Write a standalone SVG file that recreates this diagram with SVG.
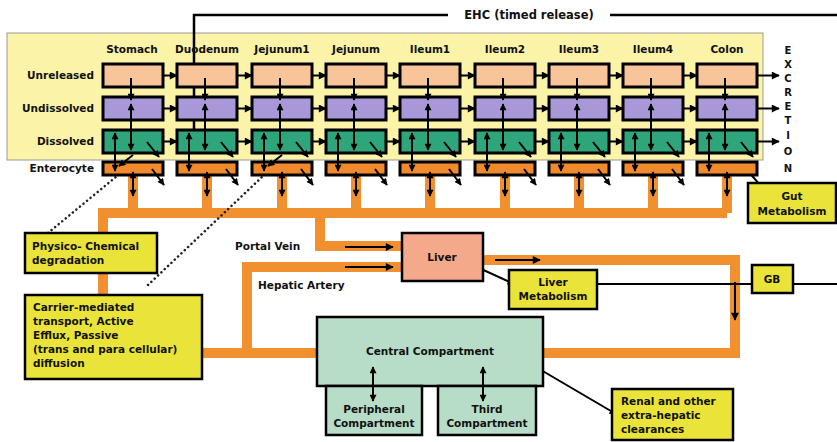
<svg xmlns="http://www.w3.org/2000/svg" width="837" height="442" viewBox="0 0 837 442">
<defs>
<marker id="ah" viewBox="0 0 10 10" refX="9" refY="5" markerWidth="10" markerHeight="8" markerUnits="userSpaceOnUse" orient="auto-start-reverse"><path d="M0,0 L10,5 L0,10 z" fill="#000"/></marker>
<marker id="ahs" viewBox="0 0 10 10" refX="9" refY="5" markerWidth="8" markerHeight="7" markerUnits="userSpaceOnUse" orient="auto-start-reverse"><path d="M0,0 L10,5 L0,10 z" fill="#000"/></marker>
<style>
text{font-family:"DejaVu Sans","Liberation Sans",Arial,sans-serif;font-weight:bold;fill:#111}
.lbl{font-size:10.5px}
.c{text-anchor:middle}
.r{text-anchor:end}
.bx{stroke:#000;stroke-width:3}
.un{fill:#F8C59B}.ud{fill:#A898D8}.di{fill:#2EA57B}.en{fill:#F08A2C}
.yel{fill:#EAE43A;stroke:#000;stroke-width:2.5}
.or{fill:none;stroke:#F0902F;stroke-width:10;stroke-linejoin:miter}
.ar{fill:none;stroke:#000;stroke-width:2;marker-end:url(#ah)}
.ar2{fill:none;stroke:#000;stroke-width:2;marker-end:url(#ahs);marker-start:url(#ahs)}
.ar1{fill:none;stroke:#000;stroke-width:2;marker-end:url(#ahs)}
.dot{fill:none;stroke:#222;stroke-width:2.5;stroke-dasharray:0.1 4.5;stroke-linecap:round}
</style>
</defs>
<rect id="panel" x="7" y="33" width="756" height="127" fill="#FAF3A8" stroke="#999" stroke-width="1"/>

<g id="connectors">
<path class="or" d="M103,296 V213 H727"/>
<path class="or" d="M133,175 V213 M207,175 V213 M282,175 V213 M356,175 V213 M430,175 V213 M505,175 V213 M579,175 V213 M653,175 V213 M727,175 V213"/>
<path class="or" d="M320,213 V246 H402"/>
<path class="or" d="M202,353 H318 M247,353 V267 H402"/>
<path class="or" d="M483,260 H735 V353 H543"/>
<path class="ar" d="M345,247 H393"/>
<path class="ar" d="M345,267 H393"/>
<path class="ar" d="M495,260 H540"/>
<path class="ar" d="M735,282 V320"/>
<path class="ar1" d="M479,268 L514,284"/>
<path class="ar1" d="M541,370 L616,414"/>
<path class="ar1" d="M747,170 L767,193"/>
<path fill="none" stroke="#000" stroke-width="2.5" d="M837,15 H610 M448,15 H194 V130"/>
<path class="ar1" d="M194,120 V137"/>
<path fill="none" stroke="#000" stroke-width="2" d="M597,284 H752 M793,284 H837"/>
<path class="dot" d="M48,233 L117,176"/>
<path class="dot" d="M148,285 L262,177"/>
</g>

<g id="row-labels">
<text class="lbl r" x="94" y="79">Unreleased</text>
<text class="lbl r" x="94" y="112">Undissolved</text>
<text class="lbl r" x="94" y="145">Dissolved</text>
<text class="lbl r" x="94" y="172">Enterocyte</text>
</g>

<g id="col-labels">
<text class="lbl c" x="132" y="53">Stomach</text>
<text class="lbl c" x="207" y="53">Duodenum</text>
<text class="lbl c" x="282" y="53">Jejunum1</text>
<text class="lbl c" x="356" y="53">Jejunum</text>
<text class="lbl c" x="430" y="53">Ileum1</text>
<text class="lbl c" x="505" y="53">Ileum2</text>
<text class="lbl c" x="579" y="53">Ileum3</text>
<text class="lbl c" x="653" y="53">Ileum4</text>
<text class="lbl c" x="727" y="53">Colon</text>
</g>

<g id="excretion">
<text class="c" x="788" y="54" font-size="10">E</text>
<text class="c" x="788" y="68" font-size="10">X</text>
<text class="c" x="788" y="82" font-size="10">C</text>
<text class="c" x="788" y="96" font-size="10">R</text>
<text class="c" x="788" y="110" font-size="10">E</text>
<text class="c" x="788" y="124" font-size="10">T</text>
<text class="c" x="788" y="139" font-size="10">I</text>
<text class="c" x="788" y="155" font-size="10">O</text>
<text class="c" x="788" y="172" font-size="10">N</text>
</g>

<g id="col-stomach" transform="translate(103,0)">
<rect class="bx un" x="0" y="64" width="60" height="23"/><rect class="bx ud" x="0" y="97" width="60" height="23"/><rect class="bx di" x="0" y="130" width="60" height="23"/><rect class="bx en" x="0" y="162" width="60" height="13"/>
<path class="ar1" d="M28,78 V100"/><path class="ar2" d="M28,104 V150"/><path class="ar2" d="M12,133 V171"/><path class="ar1" d="M44,142 L56,157"/><path class="ar1" d="M49,169 L61,185"/><path class="ar2" d="M30,172 V196"/>
<path class="ar1" d="M30,155 L16,166"/>
</g>
<g id="col-duodenum" transform="translate(177,0)">
<rect class="bx un" x="0" y="64" width="60" height="23"/><rect class="bx ud" x="0" y="97" width="60" height="23"/><rect class="bx di" x="0" y="130" width="60" height="23"/><rect class="bx en" x="0" y="162" width="60" height="13"/>
<path class="ar1" d="M28,78 V100"/><path class="ar2" d="M28,104 V150"/><path class="ar2" d="M12,133 V171"/><path class="ar1" d="M44,142 L56,157"/><path class="ar1" d="M49,169 L61,185"/><path class="ar2" d="M30,172 V196"/>
</g>
<g id="col-jejunum1" transform="translate(252,0)">
<rect class="bx un" x="0" y="64" width="60" height="23"/><rect class="bx ud" x="0" y="97" width="60" height="23"/><rect class="bx di" x="0" y="130" width="60" height="23"/><rect class="bx en" x="0" y="162" width="60" height="13"/>
<path class="ar1" d="M28,78 V100"/><path class="ar2" d="M28,104 V150"/><path class="ar2" d="M12,133 V171"/><path class="ar1" d="M44,142 L56,157"/><path class="ar1" d="M49,169 L61,185"/><path class="ar2" d="M30,172 V196"/>
<path class="ar1" d="M30,155 L16,166"/>
</g>
<g id="col-jejunum" transform="translate(326,0)">
<rect class="bx un" x="0" y="64" width="60" height="23"/><rect class="bx ud" x="0" y="97" width="60" height="23"/><rect class="bx di" x="0" y="130" width="60" height="23"/><rect class="bx en" x="0" y="162" width="60" height="13"/>
<path class="ar1" d="M28,78 V100"/><path class="ar2" d="M28,104 V150"/><path class="ar2" d="M12,133 V171"/><path class="ar1" d="M44,142 L56,157"/><path class="ar1" d="M49,169 L61,185"/><path class="ar2" d="M30,172 V196"/>
</g>
<g id="col-ileum1" transform="translate(400,0)">
<rect class="bx un" x="0" y="64" width="60" height="23"/><rect class="bx ud" x="0" y="97" width="60" height="23"/><rect class="bx di" x="0" y="130" width="60" height="23"/><rect class="bx en" x="0" y="162" width="60" height="13"/>
<path class="ar1" d="M28,78 V100"/><path class="ar2" d="M28,104 V150"/><path class="ar2" d="M12,133 V171"/><path class="ar1" d="M44,142 L56,157"/><path class="ar1" d="M49,169 L61,185"/><path class="ar2" d="M30,172 V196"/>
</g>
<g id="col-ileum2" transform="translate(475,0)">
<rect class="bx un" x="0" y="64" width="60" height="23"/><rect class="bx ud" x="0" y="97" width="60" height="23"/><rect class="bx di" x="0" y="130" width="60" height="23"/><rect class="bx en" x="0" y="162" width="60" height="13"/>
<path class="ar1" d="M28,78 V100"/><path class="ar2" d="M28,104 V150"/><path class="ar2" d="M12,133 V171"/><path class="ar1" d="M44,142 L56,157"/><path class="ar1" d="M49,169 L61,185"/><path class="ar2" d="M30,172 V196"/>
</g>
<g id="col-ileum3" transform="translate(549,0)">
<rect class="bx un" x="0" y="64" width="60" height="23"/><rect class="bx ud" x="0" y="97" width="60" height="23"/><rect class="bx di" x="0" y="130" width="60" height="23"/><rect class="bx en" x="0" y="162" width="60" height="13"/>
<path class="ar1" d="M28,78 V100"/><path class="ar2" d="M28,104 V150"/><path class="ar2" d="M12,133 V171"/><path class="ar1" d="M44,142 L56,157"/><path class="ar1" d="M49,169 L61,185"/><path class="ar2" d="M30,172 V196"/>
</g>
<g id="col-ileum4" transform="translate(623,0)">
<rect class="bx un" x="0" y="64" width="60" height="23"/><rect class="bx ud" x="0" y="97" width="60" height="23"/><rect class="bx di" x="0" y="130" width="60" height="23"/><rect class="bx en" x="0" y="162" width="60" height="13"/>
<path class="ar1" d="M28,78 V100"/><path class="ar2" d="M28,104 V150"/><path class="ar2" d="M12,133 V171"/><path class="ar1" d="M44,142 L56,157"/><path class="ar1" d="M49,169 L61,185"/><path class="ar2" d="M30,172 V196"/>
</g>
<g id="col-colon" transform="translate(697,0)">
<rect class="bx un" x="0" y="64" width="60" height="23"/><rect class="bx ud" x="0" y="97" width="60" height="23"/><rect class="bx di" x="0" y="130" width="60" height="23"/><rect class="bx en" x="0" y="162" width="60" height="13"/>
<path class="ar1" d="M28,78 V100"/><path class="ar2" d="M28,104 V150"/><path class="ar2" d="M12,133 V171"/><path class="ar1" d="M44,142 L56,157"/><path class="ar2" d="M30,172 V196"/>
</g>

<g id="transit-arrows">
<path class="ar" d="M163,75.5 H177"/><path class="ar" d="M237,75.5 H252"/><path class="ar" d="M312,75.5 H326"/><path class="ar" d="M386,75.5 H400"/><path class="ar" d="M460,75.5 H475"/><path class="ar" d="M535,75.5 H549"/><path class="ar" d="M609,75.5 H623"/><path class="ar" d="M683,75.5 H697"/><path class="ar" d="M757,75.5 H779"/>
<path class="ar" d="M163,108.5 H177"/><path class="ar" d="M237,108.5 H252"/><path class="ar" d="M312,108.5 H326"/><path class="ar" d="M386,108.5 H400"/><path class="ar" d="M460,108.5 H475"/><path class="ar" d="M535,108.5 H549"/><path class="ar" d="M609,108.5 H623"/><path class="ar" d="M683,108.5 H697"/><path class="ar" d="M757,108.5 H779"/>
<path class="ar" d="M163,141.5 H177"/><path class="ar" d="M237,141.5 H252"/><path class="ar" d="M312,141.5 H326"/><path class="ar" d="M386,141.5 H400"/><path class="ar" d="M460,141.5 H475"/><path class="ar" d="M535,141.5 H549"/><path class="ar" d="M609,141.5 H623"/><path class="ar" d="M683,141.5 H697"/><path class="ar" d="M757,141.5 H779"/>
</g>

<g id="ehc-label"><text class="c" x="529" y="19" font-size="11.5">EHC (timed release)</text></g>
<g id="portal-label"><text class="lbl" x="235" y="250">Portal Vein</text></g>
<g id="hepatic-label"><text class="lbl" x="258" y="289">Hepatic Artery</text></g>

<g id="gut-metabolism"><rect class="yel" x="748" y="183" width="88" height="40"/><text class="lbl c" x="792" y="200">Gut</text><text class="lbl c" x="792" y="215">Metabolism</text></g>
<g id="physico"><rect class="yel" x="25" y="233" width="132" height="40"/><text class="lbl" x="32" y="250">Physico- Chemical</text><text class="lbl" x="32" y="264">degradation</text></g>
<g id="carrier"><rect class="yel" x="25" y="295" width="177" height="84"/>
<text class="lbl" x="33" y="311">Carrier-mediated</text><text class="lbl" x="33" y="325">transport, Active</text><text class="lbl" x="33" y="339">Efflux, Passive</text><text class="lbl" x="33" y="353">(trans and para cellular)</text><text class="lbl" x="33" y="367">diffusion</text></g>
<g id="liver"><rect x="402" y="233" width="81" height="48" fill="#F4AA8A" stroke="#000" stroke-width="2.5"/><text class="lbl c" x="442" y="261">Liver</text></g>
<g id="liver-metabolism"><rect class="yel" x="509" y="270" width="88" height="39"/><text class="lbl c" x="553" y="286">Liver</text><text class="lbl c" x="553" y="300">Metabolism</text></g>
<g id="gb"><rect class="yel" x="752" y="265" width="41" height="28"/><text class="lbl c" x="772" y="283">GB</text></g>
<g id="central"><rect x="317" y="317" width="226" height="69" fill="#B7DDC9" stroke="#000" stroke-width="2.5"/><text class="lbl c" x="430" y="355">Central Compartment</text></g>
<g id="peripheral"><rect x="326" y="386" width="96" height="49" fill="#B7DDC9" stroke="#000" stroke-width="2.5"/><text class="lbl c" x="374" y="413">Peripheral</text><text class="lbl c" x="374" y="427">Compartment</text></g>
<g id="third"><rect x="438" y="386" width="98" height="49" fill="#B7DDC9" stroke="#000" stroke-width="2.5"/><text class="lbl c" x="487" y="413">Third</text><text class="lbl c" x="487" y="427">Compartment</text></g>
<g id="renal"><rect class="yel" x="612" y="389" width="121" height="51"/><text class="lbl" x="621" y="405">Renal and other</text><text class="lbl" x="621" y="419">extra-hepatic</text><text class="lbl" x="621" y="433">clearances</text></g>
<g id="compartment-arrows">
<path class="ar2" d="M373,367 V401"/>
<path class="ar2" d="M483,367 V401"/>
</g>
</svg>
